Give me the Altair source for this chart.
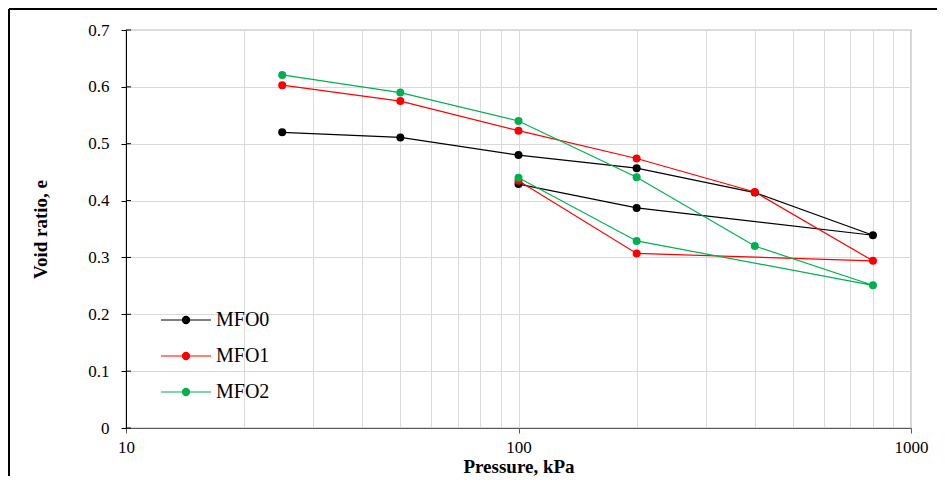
import altair as alt
import pandas as pd

series = ["MFO0", "MFO1", "MFO2"]
colors = ["#000000", "#FF0000", "#00B050"]
pressure = [25, 50, 100, 200, 400, 800, 200, 100]
e_mfo0 = [0.520, 0.511, 0.480, 0.457, 0.414, 0.339, 0.387, 0.429]
e_mfo1 = [0.603, 0.575, 0.523, 0.474, 0.415, 0.294, 0.307, 0.435]
e_mfo2 = [0.621, 0.590, 0.540, 0.441, 0.320, 0.251, 0.329, 0.440]
x_grid = [10, 20, 30, 40, 50, 60, 70, 80, 90, 100,
          200, 300, 400, 500, 600, 700, 800, 900, 1000]
y_ticks = [0, 0.1, 0.2, 0.3, 0.4, 0.5, 0.6, 0.7]

rows = []
for name, vals in zip(series, [e_mfo0, e_mfo1, e_mfo2]):
    for i, (p, v) in enumerate(zip(pressure, vals)):
        rows.append({"series": name, "pressure": p, "e": v, "step": i})
df = pd.DataFrame(rows)

FONT = "Liberation Serif"
W, H = 785, 398
major = "datum.value == 10 || datum.value == 100 || datum.value == 1000"

x_enc = alt.X(
    "pressure:Q",
    scale=alt.Scale(type="log", domain=[10, 1000]),
    axis=alt.Axis(
        values=x_grid,
        labelExpr=f"({major}) ? format(datum.value, 'd') : ''",
        labelOverlap=False,
        labelFlush=False,
        tickOpacity={"condition": {"test": major, "value": 1}, "value": 0},
        tickSize=5,
        tickColor="#595959",
        domainColor="#595959",
        labelPadding=6,
        title="Pressure, kPa",
        titleX=W / 2,
        titleY=38,
        titleBaseline="middle",
        titleAlign="center",
    ),
)
y_enc = alt.Y(
    "e:Q",
    scale=alt.Scale(domain=[0, 0.7]),
    axis=alt.Axis(
        values=y_ticks,
        format=".1~f",
        tickSize=5,
        tickColor="#000000",
        domainColor="#000000",
        labelPadding=12,
        title="Void ratio, e",
        titleAngle=-90,
        titleX=-86,
        titleY=H / 2,
        titleBaseline="middle",
        titleAlign="center",
    ),
)

color_scale = alt.Scale(domain=series, range=colors)
legend_symbol = ("M-2.5,0H2.5M-0.36,0A0.36,0.36,0,1,1,0.36,0"
                 "A0.36,0.36,0,1,1,-0.36,0Z")
legend = alt.Legend(
    title=None,
    orient="none",
    legendX=49,
    legendY=279,
    symbolType=legend_symbol,
    symbolSize=400,
    symbolStrokeWidth=1.1,
    labelFont=FONT,
    labelFontSize=20,
    labelColor="#000000",
    labelOffset=19,
    rowPadding=15,
)
color_enc = alt.Color("series:N", scale=color_scale, legend=legend)

lines = alt.Chart(df).mark_line(strokeWidth=1.2).encode(
    x=x_enc, y=y_enc, color=color_enc, order="step:O",
)
points = alt.Chart(df).mark_circle(size=64, opacity=1).encode(
    x=x_enc, y=y_enc, color=color_enc,
)

# inward half of the crossing y-axis ticks
inner_ticks = alt.Chart(pd.DataFrame({"t": y_ticks})).mark_rule(
    color="#000000", strokeWidth=1
).encode(y=alt.Y("t:Q", scale=alt.Scale(domain=[0, 0.7])),
         x=alt.value(0), x2=alt.value(5))

frame_left = alt.Chart(pd.DataFrame({"a": [0]})).mark_rule(
    color="#000000", strokeWidth=2, clip=False
).encode(x=alt.value(-117), y=alt.value(-21), y2=alt.value(460))
frame_top = alt.Chart(pd.DataFrame({"a": [0]})).mark_rule(
    color="#000000", strokeWidth=2, clip=False
).encode(x=alt.value(-117), x2=alt.value(820), y=alt.value(-21))

chart = alt.layer(frame_left, frame_top, lines, points, inner_ticks).properties(
    width=W, height=H,
    background="white",
    autosize=alt.AutoSizeParams(type="none"),
    padding={"left": 118, "top": 22, "right": 26, "bottom": 48},
).configure_view(
    stroke="#767676", strokeWidth=1.2
).configure_axis(
    labelFont=FONT, labelFontSize=17, labelColor="#000000",
    titleFont=FONT, titleFontSize=19, titleFontWeight="bold", titleColor="#000000",
    gridColor="#D9D9D9", gridWidth=1, grid=True,
)

chart.save("out.html", embed_options={"renderer": "svg", "actions": False})
